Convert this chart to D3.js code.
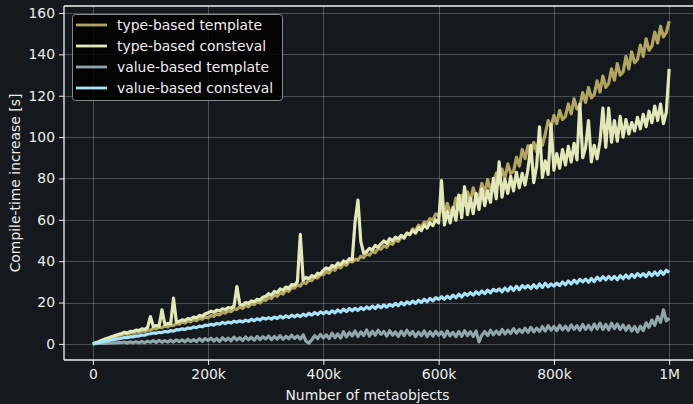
<!DOCTYPE html>
<html>
<head>
<meta charset="utf-8">
<script src="https://cdn.jsdelivr.net/npm/d3@7"></script>
<style>
  html, body { margin: 0; padding: 0; background: #15181c; }
  svg { display: block; }
  text { font-family: "DejaVu Sans", sans-serif; fill: #eeeeee; }
</style>
</head>
<body>
<svg id="chart" width="693" height="404"></svg>
<script>
// Number of metaobjects sampled every 5k, from 0 to 1M
const STEP = 5000;
const metaobjects = d3.range(0, 1000000 + STEP, STEP);

// Compile-time increase [s] per approach
const typeTemplate = [
  0, 0.5, 0.9, 1.5, 1.8, 2.4, 2.6, 3.3, 3.5, 4.1, 4.4,
  4.9, 4.6, 5.4, 5.2, 5.9, 5.5, 6.3, 6.0, 6.8, 6.6,
  7.6, 7.2, 8.1, 7.8, 8.7, 8.2, 9.1, 8.9, 9.8, 9.5,
  10.6, 10.1, 11.2, 10.7, 11.8, 11.2, 12.4, 11.9, 13.1, 12.6,
  13.8, 13.3, 14.6, 14.0, 15.3, 14.9, 16.0, 15.6, 16.9, 16.7,
  17.9, 17.2, 18.6, 18.0, 19.5, 19.0, 20.4, 19.8, 21.4, 21.0,
  22.6, 21.9, 23.7, 23.0, 24.8, 24.1, 26.0, 25.4, 27.3, 27.0,
  28.6, 28.0, 29.9, 29.2, 31.0, 30.6, 32.4, 31.8, 33.6, 33.5,
  35.0, 34.3, 36.2, 35.6, 37.5, 36.8, 38.6, 38.0, 40.1, 39.6,
  41.0, 40.6, 42.4, 41.7, 43.6, 42.9, 44.8, 44.1, 46.2, 45.8,
  47.4, 46.7, 48.9, 48.1, 50.3, 49.6, 51.8, 51.0, 53.5, 53.0,
  55.6, 54.8, 57.4, 56.5, 58.9, 58.3, 60.6, 59.8, 62.8, 62.0,
  66.5, 61.0, 68.0, 63.5, 64.0, 70.5, 65.0, 71.8, 67.0, 73.5,
  69.0, 75.5, 70.2, 71.0, 77.6, 72.8, 79.5, 74.5, 75.8, 82.6,
  77.8, 84.5, 80.0, 87.0, 82.4, 83.5, 90.2, 86.0, 94.0, 89.6,
  95.8, 91.5, 97.5, 93.0, 99.8, 96.0, 101.5, 108.0, 104.8, 110.5,
  106.5, 112.8, 108.5, 110.0, 116.0, 111.2, 118.5, 113.5, 114.8, 121.5,
  116.8, 124.0, 119.0, 120.5, 127.2, 121.8, 129.5, 124.0, 126.0, 133.0,
  127.5, 135.5, 130.0, 131.5, 139.0, 133.0, 141.2, 136.0, 137.5, 144.5,
  139.0, 147.5, 142.0, 144.0, 150.8, 145.5, 153.5, 148.5, 150.5, 156.0
];

const typeConsteval = [
  0, 0.6, 1.1, 1.7, 2.2, 2.7, 3.2, 3.7, 4.2, 4.6, 5.0,
  5.6, 5.3, 6.1, 5.9, 6.7, 6.4, 7.3, 7.0, 8.0, 13.2,
  8.4, 8.9, 8.6, 16.5, 9.3, 9.9, 9.6, 22.1, 10.5, 10.9,
  11.6, 11.3, 12.3, 12.0, 13.0, 12.6, 13.8, 13.4, 14.6, 15.0,
  15.8, 15.3, 16.4, 16.0, 17.0, 16.6, 17.6, 17.2, 18.3, 27.7,
  19.2, 18.8, 20.0, 19.6, 20.8, 20.3, 21.6, 21.2, 22.6, 23.0,
  24.3, 23.6, 25.4, 24.8, 26.6, 25.9, 27.5, 26.8, 28.7, 28.4,
  30.2, 53.0, 30.8, 32.2, 31.5, 33.0, 32.4, 34.2, 33.8, 35.6,
  36.8, 36.0, 37.9, 37.2, 39.0, 38.2, 40.1, 39.4, 41.2, 40.6,
  59.0, 69.5, 49.5, 43.8, 44.6, 46.2, 45.4, 47.6, 46.8, 48.4,
  49.8, 48.6, 50.9, 49.9, 51.6, 50.8, 52.5, 51.4, 53.6, 52.8,
  54.9, 53.6, 56.2, 54.8, 57.5, 56.0, 58.6, 57.2, 60.0, 58.5,
  79.0, 57.5, 64.0, 58.5, 66.0, 59.8, 72.0, 61.0, 76.0, 62.5,
  70.5, 63.0, 72.8, 65.0, 75.0, 66.8, 74.0, 68.5, 80.0, 70.2,
  88.0, 71.0, 79.5, 72.8, 81.0, 74.0, 83.0, 75.5, 82.5, 76.8,
  84.5, 96.0, 78.0, 86.0, 105.0, 80.5, 88.5, 82.0, 106.0, 84.0,
  92.0, 85.0, 94.0, 86.5, 95.5, 88.0, 97.0, 89.0, 116.0, 90.0,
  95.0, 108.0, 88.0, 96.0, 89.5, 98.0, 114.0, 95.0, 114.0, 97.5,
  108.0, 98.0, 110.0, 100.0, 108.5, 101.5, 107.0, 103.0, 109.5, 104.0,
  111.0, 105.0, 112.5, 107.0, 115.0, 108.0, 116.0, 106.5, 112.0, 133.0
];

const valueTemplate = [
  0, 0.1, 0.2, 0.3, 0.3, 0.4, 0.4, 0.5, 0.5, 0.6, 0.6,
  0.9, 0.4, 1.0, 0.5, 1.1, 0.6, 1.2, 0.6, 1.3, 0.8,
  1.6, 0.7, 1.7, 0.8, 1.6, 0.9, 1.8, 0.9, 2.0, 1.1,
  2.0, 1.0, 2.3, 1.2, 2.1, 1.1, 2.5, 1.3, 2.6, 1.6,
  2.8, 1.4, 2.6, 1.2, 3.0, 1.7, 2.8, 1.5, 3.3, 1.9,
  3.0, 1.6, 3.4, 2.0, 3.2, 1.8, 3.6, 2.1, 3.5, 2.4,
  3.8, 2.0, 3.6, 2.3, 4.0, 2.2, 3.7, 2.5, 4.2, 2.6,
  3.9, 2.3, 4.4, 1.2, 0.4, 2.0, 4.0, 2.5, 4.6, 2.9,
  4.4, 2.6, 5.2, 3.0, 4.8, 2.8, 5.9, 3.4, 5.5, 3.8,
  6.3, 3.6, 5.8, 4.0, 6.8, 3.8, 6.2, 4.2, 6.6, 4.6,
  6.0, 3.8, 6.4, 4.2, 5.8, 3.6, 6.2, 4.0, 6.6, 4.3,
  6.0, 3.5, 5.7, 3.9, 6.3, 3.6, 5.9, 3.8, 6.1, 4.2,
  5.8, 3.4, 6.2, 3.9, 5.6, 3.5, 6.0, 3.7, 6.4, 4.0,
  5.9, 3.6, 6.3, 1.0, 4.2, 6.0, 4.0, 6.6, 4.4, 6.3,
  4.5, 7.0, 4.8, 6.6, 5.0, 7.4, 5.2, 7.0, 5.5, 7.6,
  5.6, 8.0, 5.8, 7.6, 6.0, 8.4, 6.2, 8.8, 6.6, 8.5,
  6.4, 9.0, 6.8, 8.6, 6.5, 9.2, 7.0, 8.8, 6.6, 9.4,
  7.0, 9.0, 6.8, 9.6, 7.2, 10.0, 7.0, 9.4, 6.8, 10.0,
  7.4, 9.6, 7.0, 9.2, 6.6, 8.8, 6.2, 8.4, 5.8, 8.6,
  6.4, 10.2, 8.0, 11.6, 9.0, 13.2, 10.4, 16.5, 11.2, 12.5
];

const valueConsteval = [
  0, 0.4, 0.6, 0.9, 1.2, 1.4, 1.8, 2.0, 2.3, 2.5, 2.8,
  3.1, 3.0, 3.5, 3.4, 3.9, 3.8, 4.3, 4.2, 4.8, 4.9,
  5.3, 5.1, 5.6, 5.5, 6.0, 5.8, 6.4, 6.2, 6.9, 6.8,
  7.3, 7.0, 7.7, 7.5, 8.2, 7.9, 8.6, 8.3, 9.1, 8.9,
  9.5, 9.1, 9.9, 9.5, 10.4, 9.8, 10.6, 10.1, 11.0, 10.5,
  11.2, 10.6, 11.5, 10.9, 11.9, 11.2, 12.2, 11.5, 12.6, 12.0,
  12.7, 12.0, 13.0, 12.3, 13.4, 12.5, 13.6, 12.8, 13.9, 13.1,
  14.0, 13.2, 14.4, 13.6, 14.8, 13.9, 15.2, 14.2, 15.5, 14.6,
  15.6, 14.7, 16.0, 15.0, 16.4, 15.4, 16.8, 15.6, 17.1, 16.0,
  17.2, 16.2, 17.5, 16.6, 17.9, 16.9, 18.3, 17.1, 18.6, 17.5,
  18.8, 17.8, 19.1, 18.2, 19.6, 18.5, 20.0, 18.9, 20.3, 19.4,
  20.7, 19.6, 21.1, 20.0, 21.6, 20.4, 22.0, 20.8, 22.4, 21.5,
  22.8, 21.6, 23.1, 22.0, 23.6, 22.3, 24.0, 22.7, 24.4, 23.5,
  24.8, 23.6, 25.2, 24.0, 25.6, 24.3, 26.0, 24.7, 26.4, 25.5,
  26.6, 25.2, 27.0, 25.6, 27.5, 25.9, 27.9, 26.2, 28.2, 27.0,
  28.2, 26.8, 28.6, 27.0, 29.0, 27.3, 29.3, 27.6, 29.0, 28.0,
  29.4, 28.2, 29.9, 28.6, 30.4, 29.0, 30.8, 29.4, 31.2, 30.0,
  31.3, 29.8, 31.6, 30.1, 32.3, 30.8, 32.5, 31.0, 32.6, 31.2,
  32.6, 31.0, 33.0, 31.5, 33.3, 31.8, 33.6, 32.2, 34.0, 32.6,
  34.0, 32.5, 34.5, 33.0, 34.8, 33.2, 35.2, 33.6, 35.6, 34.5
];

const seriesNames = ["type-based template", "type-based consteval", "value-based template", "value-based consteval"];
const seriesColors = ["#b1a660", "#e2e8b7", "#90a6aa", "#a8e2f7"];
const seriesValues = [typeTemplate, typeConsteval, valueTemplate, valueConsteval];

const xTicks = [0, 200000, 400000, 600000, 800000, 1000000];
const xTickLabels = ["0", "200k", "400k", "600k", "800k", "1M"];
const yTicks = [0, 20, 40, 60, 80, 100, 120, 140, 160];

const svg = d3.select("#chart");
const W = 693, H = 404;
const plot = { left: 64, right: 698, top: 6, bottom: 360 };

svg.append("rect").attr("width", W).attr("height", H).attr("fill", "#15181c");

const x = d3.scaleLinear().domain([-50000, 1050000]).range([plot.left, plot.right]);
const y = d3.scaleLinear().domain([-7.78, 163.38]).range([plot.bottom, plot.top]);

svg.append("defs").append("clipPath").attr("id", "plotclip")
  .append("rect")
  .attr("x", plot.left).attr("y", plot.top)
  .attr("width", plot.right - plot.left).attr("height", plot.bottom - plot.top);

// grid
const grid = svg.append("g").attr("stroke", "#ffffff").attr("stroke-opacity", 0.24).attr("stroke-width", 1);
grid.selectAll("line.gx").data(xTicks).join("line")
  .attr("x1", d => Math.round(x(d)) + 0.5).attr("x2", d => Math.round(x(d)) + 0.5)
  .attr("y1", plot.top).attr("y2", plot.bottom);
grid.selectAll("line.gy").data(yTicks).join("line")
  .attr("y1", d => Math.round(y(d)) + 0.5).attr("y2", d => Math.round(y(d)) + 0.5)
  .attr("x1", plot.left).attr("x2", W);

// series lines
const lines = svg.append("g").attr("clip-path", "url(#plotclip)");
seriesValues.forEach((vals, k) => {
  const line = d3.line()
    .x((d, i) => x(metaobjects[i]))
    .y(d => y(d));
  lines.append("path")
    .datum(vals)
    .attr("d", line)
    .attr("fill", "none")
    .attr("stroke", seriesColors[k])
    .attr("stroke-width", 3.2)
    .attr("stroke-linejoin", "round");
});

// axes
const xAxis = d3.axisBottom(x).tickValues(xTicks).tickFormat((d, i) => xTickLabels[i])
  .tickSizeInner(5).tickSizeOuter(0).tickPadding(4);
const gx = svg.append("g").attr("transform", `translate(0,${plot.bottom})`).call(xAxis);
const yAxis = d3.axisLeft(y).tickValues(yTicks).tickFormat(d3.format("d"))
  .tickSizeInner(5).tickSizeOuter(0).tickPadding(4);
const gy = svg.append("g").attr("transform", `translate(${plot.left},0)`).call(yAxis);

[gx, gy].forEach(g => {
  g.select(".domain").remove();
  g.selectAll(".tick line").attr("stroke", "#eeeeee").attr("stroke-width", 1);
  g.selectAll(".tick text").attr("fill", "#eeeeee")
    .style("font-family", "DejaVu Sans").style("font-size", "13.9px");
});

// spines
const spine = svg.append("g").attr("stroke", "#f2f2f2").attr("stroke-width", 1.3);
spine.append("line").attr("x1", plot.left).attr("x2", plot.left).attr("y1", plot.top).attr("y2", plot.bottom);
spine.append("line").attr("x1", plot.left).attr("x2", W).attr("y1", plot.bottom).attr("y2", plot.bottom);
spine.append("line").attr("x1", plot.left).attr("x2", W).attr("y1", plot.top).attr("y2", plot.top);

// axis titles
svg.append("text")
  .attr("x", (plot.left + 669) / 2 + 1).attr("y", 400)
  .attr("text-anchor", "middle").style("font-size", "13.9px")
  .text("Number of metaobjects");
svg.append("text")
  .attr("transform", `translate(20,${(plot.top + plot.bottom) / 2}) rotate(-90)`)
  .attr("text-anchor", "middle").style("font-size", "13.9px")
  .text("Compile-time increase [s]");

// legend
const legend = svg.append("g");
legend.append("rect")
  .attr("x", 72.5).attr("y", 14.5).attr("width", 210).attr("height", 86)
  .attr("rx", 3).attr("fill", "#000000").attr("fill-opacity", 0.85)
  .attr("stroke", "#8a8a8a").attr("stroke-width", 1);
seriesNames.forEach((name, k) => {
  const yy = 25 + k * 21;
  legend.append("line")
    .attr("x1", 76).attr("x2", 107).attr("y1", yy).attr("y2", yy)
    .attr("stroke", seriesColors[k]).attr("stroke-width", 2.8);
  legend.append("text")
    .attr("x", 117).attr("y", yy + 5)
    .style("font-size", "13.9px")
    .text(name);
});
</script>
</body>
</html>
